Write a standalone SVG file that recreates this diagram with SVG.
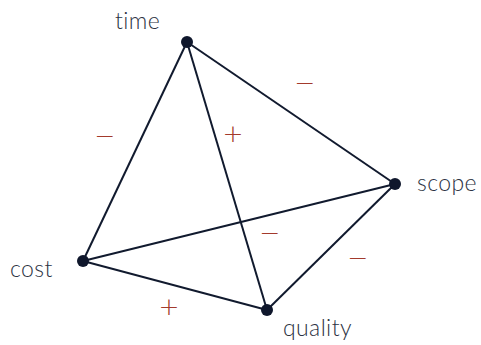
<svg xmlns="http://www.w3.org/2000/svg" width="481" height="345" viewBox="0 0 481 345">
<style>
.e{stroke:#111a2e;stroke-width:2;fill:none}
.n{fill:#0f172c}
.l{font-family:Lato,"Open Sans",sans-serif;font-size:23px;fill:#2c3242;font-weight:300;letter-spacing:0.4px}
.s{font-family:"DejaVu Sans",sans-serif;font-size:25px;fill:#a33a2c;text-anchor:middle;font-weight:200}
</style>
<rect width="481" height="345" fill="#fff"/>
<g id="connectors">
<line class="e" x1="187" y1="42" x2="83" y2="261"/>
<line class="e" x1="187" y1="42" x2="267" y2="310"/>
<line class="e" x1="187" y1="42" x2="395" y2="184"/>
<line class="e" x1="83" y1="261" x2="395" y2="184"/>
<line class="e" x1="83" y1="261" x2="267" y2="310"/>
<line class="e" x1="267" y1="310" x2="395" y2="184"/>
</g>
<g id="signs">
<text class="s" x="105" y="144">−</text>
<text class="s" x="305" y="91">−</text>
<text class="s" x="233" y="142">+</text>
<text class="s" x="270" y="241">−</text>
<text class="s" x="358" y="266">−</text>
<text class="s" x="169" y="315">+</text>
</g>
<g id="time"><circle class="n" cx="187" cy="42" r="6"/><text class="l" x="115" y="29">time</text></g>
<g id="scope"><circle class="n" cx="395" cy="184" r="6"/><text class="l" x="417" y="191">scope</text></g>
<g id="cost"><circle class="n" cx="83" cy="261" r="6"/><text class="l" x="10" y="277">cost</text></g>
<g id="quality"><circle class="n" cx="267" cy="310" r="6"/><text class="l" x="283" y="336">quality</text></g>
</svg>
